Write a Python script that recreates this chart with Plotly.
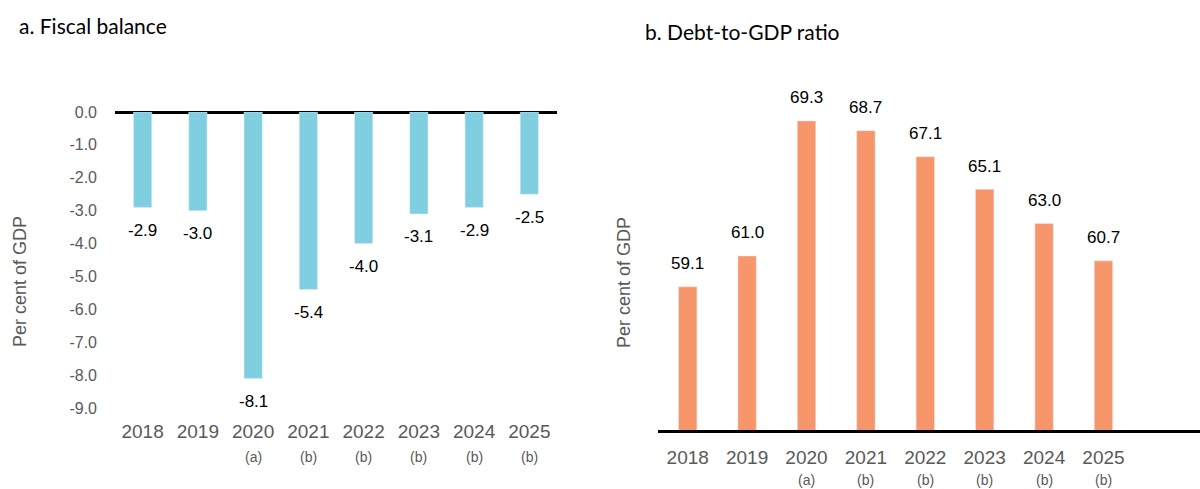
import plotly.graph_objects as go

years = ["2018", "2019", "2020", "2021", "2022", "2023", "2024", "2025"]
notes = ["", "", "(a)", "(b)", "(b)", "(b)", "(b)", "(b)"]
fiscal_balance = [-2.9, -3.0, -8.1, -5.4, -4.0, -3.1, -2.9, -2.5]
debt_to_gdp = [59.1, 61.0, 69.3, 68.7, 67.1, 65.1, 63.0, 60.7]
left_ticks = [0, -1, -2, -3, -4, -5, -6, -7, -8, -9]
left_tick_labels = ["0.0", "-1.0", "-2.0", "-3.0", "-4.0", "-5.0", "-6.0", "-7.0", "-8.0", "-9.0"]

BLUE = "#7fcfe0"
ORANGE = "#f7966a"
GRAY = "#595959"
ARIAL = "Liberation Sans, Arial, sans-serif"
TITLE_FONT = "Lato, Open Sans, sans-serif"

W, H = 1200, 489

def py(px):
    return 1 - px / H

idx = list(range(len(years)))

fig = go.Figure()
fig.add_trace(go.Bar(x=idx, y=fiscal_balance, marker_color=BLUE, width=0.33,
                     xaxis="x", yaxis="y", showlegend=False,
                     customdata=years, hovertemplate="%{customdata}: %{y}<extra></extra>"))
fig.add_trace(go.Bar(x=idx, y=debt_to_gdp, marker_color=ORANGE, width=0.31,
                     xaxis="x2", yaxis="y2", showlegend=False,
                     customdata=years, hovertemplate="%{customdata}: %{y}<extra></extra>"))

annotations = []
for i, v in zip(idx, fiscal_balance):
    annotations.append(dict(x=i, y=v, xref="x", yref="y", text=f"{v:.1f}", showarrow=False,
                            yanchor="middle", yshift=-23,
                            font=dict(family=ARIAL, size=17, color="black")))
for i, v in zip(idx, debt_to_gdp):
    annotations.append(dict(x=i, y=v, xref="x2", yref="y2", text=f"{v:.1f}", showarrow=False,
                            yanchor="middle", yshift=23,
                            font=dict(family=ARIAL, size=17, color="black")))
for i, n in zip(idx, notes):
    if n:
        annotations.append(dict(x=i, y=py(457), xref="x", yref="paper", text=n, showarrow=False,
                                yanchor="middle", font=dict(family=ARIAL, size=14, color=GRAY)))
        annotations.append(dict(x=i, y=py(480), xref="x2", yref="paper", text=n, showarrow=False,
                                yanchor="middle", font=dict(family=ARIAL, size=14, color=GRAY)))

annotations += [
    dict(x=17 / W, y=py(26), xref="paper", yref="paper", text="a. Fiscal balance", showarrow=False,
         xanchor="left", yanchor="middle", font=dict(family=TITLE_FONT, size=21, color="black")),
    dict(x=643 / W, y=py(32), xref="paper", yref="paper", text="b. Debt-to-GDP ratio", showarrow=False,
         xanchor="left", yanchor="middle", font=dict(family=TITLE_FONT, size=21, color="black")),
    dict(x=20 / W, y=py(282), xref="paper", yref="paper", text="Per cent of GDP", showarrow=False,
         textangle=-90, xanchor="center", yanchor="middle", font=dict(family=ARIAL, size=18, color=GRAY)),
    dict(x=624 / W, y=py(283), xref="paper", yref="paper", text="Per cent of GDP", showarrow=False,
         textangle=-90, xanchor="center", yanchor="middle", font=dict(family=ARIAL, size=18, color=GRAY)),
]

xcommon = dict(tickmode="array", tickvals=idx, ticktext=years, tickangle=0, automargin=False,
               showgrid=False, zeroline=False, ticks="",
               tickfont=dict(family=ARIAL, size=19, color=GRAY))

fig.update_layout(
    width=W, height=H,
    margin=dict(l=0, r=0, t=0, b=0),
    paper_bgcolor="white", plot_bgcolor="white",
    annotations=annotations,
    xaxis=dict(domain=[115 / W, 557 / W], anchor="y", range=[-0.5, 7.5], showline=False,
               ticklabelstandoff=10, **xcommon),
    yaxis=dict(domain=[py(408), py(112)], anchor="x", range=[-9, 0], automargin=False,
               tickmode="array", tickvals=left_ticks, ticktext=left_tick_labels,
               showgrid=False, showline=False, zeroline=True, zerolinecolor="black", zerolinewidth=2.5,
               ticks="", ticklabelstandoff=17, tickfont=dict(family=ARIAL, size=16, color=GRAY)),
    xaxis2=dict(domain=[658 / W, 1.0], anchor="y2", range=[-0.5, 8.625],
                showline=True, linecolor="black", linewidth=2.5, ticklabelstandoff=8, **xcommon),
    yaxis2=dict(domain=[py(430), py(77)], anchor="x2", range=[50.3, 72], automargin=False,
                showticklabels=False, showgrid=False, showline=False, zeroline=False, ticks=""),
)

fig.write_html("out.html", config={"displayModeBar": False},
               post_script="document.body.style.margin='0';document.body.style.overflow='hidden';")
